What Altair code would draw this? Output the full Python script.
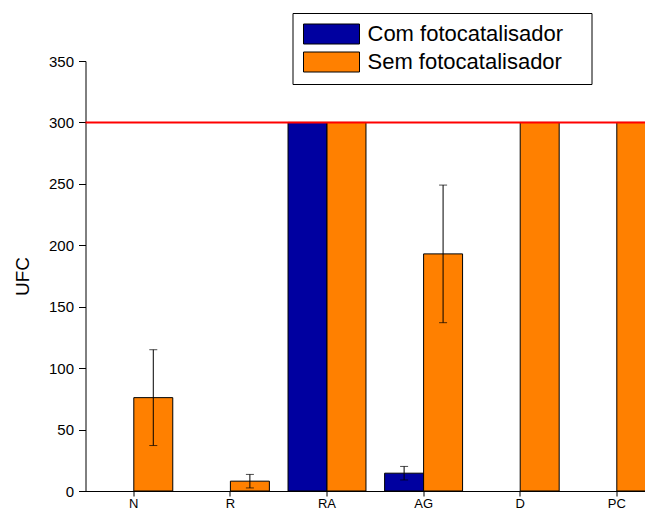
import altair as alt
import pandas as pd

categories = ["N", "R", "RA", "AG", "D", "PC"]
com_values = [0, 0, 300, 14.5, 0, 0]
com_errors = [0, 0, 0, 5.5, 0, 0]
sem_values = [76, 8, 300, 193, 300, 300]
sem_errors = [39, 5.5, 0, 56, 0, 0]
series_names = ["Com fotocatalisador", "Sem fotocatalisador"]
series_colors = ["#0000A0", "#FF8000"]
limit_value = 300

rows = []
for i, c in enumerate(categories):
    rows.append({"cat": c, "series": series_names[0], "value": com_values[i], "err": com_errors[i]})
    rows.append({"cat": c, "series": series_names[1], "value": sem_values[i], "err": sem_errors[i]})
df = pd.DataFrame(rows)
df["lo"] = df["value"] - df["err"]
df["hi"] = df["value"] + df["err"]

FONT = "Liberation Sans"
STEP = 96.6

x_enc = alt.X("cat:N", sort=categories, title=None,
              scale=alt.Scale(paddingInner=0.193, paddingOuter=0.0965, range=[0, STEP * len(categories)]),
              axis=alt.Axis(labelAngle=0, labelFontSize=13, labelFont=FONT, labelColor="black",
                            tickSize=5, labelPadding=1, tickColor="black", domainColor="black",
                            tickWidth=1, domainWidth=1, grid=False))
xoff = alt.XOffset("series:N", sort=series_names, scale=alt.Scale(paddingInner=0, paddingOuter=0))
y_scale = alt.Scale(domain=[0, 350], nice=False)

bars = alt.Chart(df).transform_filter("datum.value > 0").mark_bar(
    stroke="black", strokeWidth=1, clip=True
).encode(
    x=x_enc,
    xOffset=xoff,
    y=alt.Y("value:Q", scale=y_scale, title="UFC",
            axis=alt.Axis(values=list(range(0, 351, 25)),
                          labelExpr="datum.value % 50 === 0 ? datum.label : ''",
                          tickSize={"condition": {"test": "datum.value % 50 === 0", "value": 7}, "value": 4},
                          labelFontSize=15, labelFont=FONT, labelColor="black", labelPadding=5,
                          titleFontSize=19, titleFont=FONT, titleFontWeight="normal", titleColor="black",
                          titlePadding=16, grid=False, tickColor="black", domainColor="black")),
    color=alt.Color("series:N", sort=series_names,
                    scale=alt.Scale(domain=series_names, range=series_colors),
                    legend=alt.Legend(orient="none", legendX=207, legendY=-48, title=None,
                                      symbolType="M-1,-1L4.6,-1L4.6,1L-1,1ZM26.6,0L26.6,0",
                                      symbolSize=400, symbolStrokeColor="black", symbolStrokeWidth=1,
                                      symbolOpacity=1, labelLimit=400,
                                      labelFontSize=22, labelFont=FONT, labelColor="black",
                                      labelOffset=43, strokeColor="black", fillColor="white",
                                      padding=10, rowPadding=4)),
)

err_df_filter = "datum.err > 0"
err_rule = alt.Chart(df).transform_filter(err_df_filter).mark_rule(color="black", strokeWidth=1).encode(
    x=alt.X("cat:N", sort=categories), xOffset=xoff,
    y=alt.Y("lo:Q", scale=y_scale), y2="hi:Q")
cap_lo = alt.Chart(df).transform_filter(err_df_filter).mark_tick(color="black", size=8, thickness=1).encode(
    x=alt.X("cat:N", sort=categories), xOffset=xoff, y=alt.Y("lo:Q", scale=y_scale))
cap_hi = alt.Chart(df).transform_filter(err_df_filter).mark_tick(color="black", size=8, thickness=1).encode(
    x=alt.X("cat:N", sort=categories), xOffset=xoff, y=alt.Y("hi:Q", scale=y_scale))

limit = alt.Chart(pd.DataFrame({"y": [limit_value]})).mark_rule(color="#FF0000", strokeWidth=2).encode(
    y=alt.Y("y:Q", scale=y_scale))

chart = alt.layer(bars, err_rule, cap_lo, cap_hi, limit).properties(
    width=559.5, height=430,
    padding={"left": 77.5, "top": 53, "right": 0, "bottom": 18},
    autosize=alt.AutoSizeParams(type="none"),
    background="white",
).configure_view(strokeWidth=0, stroke=None).configure_axis(grid=False)

chart.save("out.html", embed_options={"renderer": "svg", "actions": False})
